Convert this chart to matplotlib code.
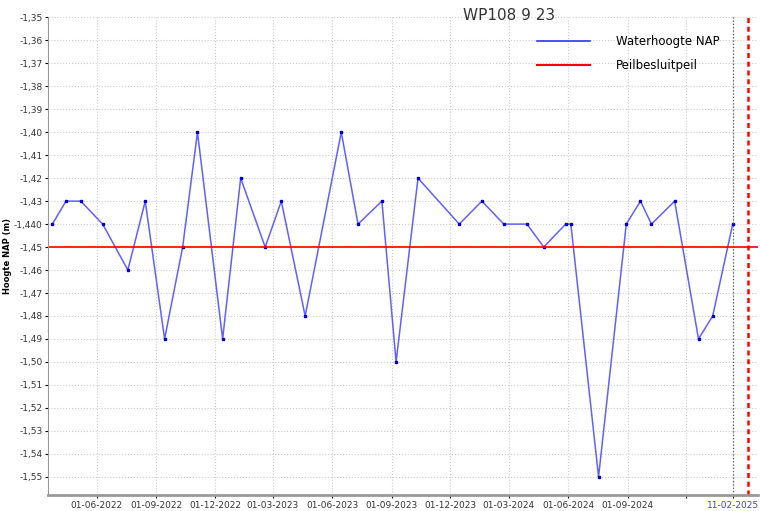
import matplotlib
matplotlib.use("Agg")
import matplotlib.pyplot as plt
from matplotlib.lines import Line2D
from datetime import datetime

dates = ["2022-03-24","2022-04-14","2022-05-07","2022-06-10","2022-07-19","2022-08-15",
         "2022-09-14","2022-10-12","2022-11-04","2022-12-13","2023-01-10","2023-02-17",
         "2023-03-14","2023-04-20","2023-06-15","2023-07-11","2023-08-17","2023-09-08",
         "2023-10-12","2023-12-15","2024-01-19","2024-02-22","2024-03-29","2024-04-24",
         "2024-05-28","2024-06-05","2024-07-18","2024-08-30","2024-09-21","2024-10-08",
         "2024-11-13","2024-12-20","2025-01-11","2025-02-11"]
levels = [-1.44,-1.43,-1.43,-1.44,-1.46,-1.43,-1.49,-1.45,-1.40,-1.49,-1.42,-1.45,
          -1.43,-1.48,-1.40,-1.44,-1.43,-1.50,-1.42,-1.44,-1.43,-1.44,-1.44,-1.45,
          -1.44,-1.44,-1.55,-1.44,-1.43,-1.44,-1.43,-1.49,-1.48,-1.44]
peilbesluit = -1.45
yticks = [round(-1.35 - 0.01*i, 2) for i in range(21)]
ytick_labels = [("%.2f" % v).replace(".", ",") if abs(v+1.44) > 1e-9 else "-1,440" for v in yticks]
xtick_dates = ["2022-06-01","2022-09-01","2022-12-01","2023-03-01","2023-06-01","2023-09-01",
               "2023-12-01","2024-03-01","2024-06-01","2024-09-01","2024-12-01","2025-02-11"]
xtick_labels = ["01-06-2022","01-09-2022","01-12-2022","01-03-2023","01-06-2023","01-09-2023",
                "01-12-2023","01-03-2024","01-06-2024","01-09-2024","","11-02-2025"]

d = [datetime.fromisoformat(s) for s in dates]
fig = plt.figure(figsize=(7.6, 5.11), dpi=100)
ax = fig.add_axes([0.063, 0.031, 0.935, 0.935])
ax.plot(d, levels, color="#6060ff", lw=1.1, marker="s", ms=2, mfc="#0000cc", mec="#0000cc")
ax.axhline(peilbesluit, color="red", lw=1.2)
ax.axvline(datetime(2025, 2, 11), color="#555555", lw=0.9, ls=":")
ax.axvline(datetime(2025, 3, 6), color="red", lw=1.8, ls=(0, (2, 1.5)))
ax.set_xlim(datetime(2022, 3, 17), datetime(2025, 3, 23))
ax.set_ylim(-1.558, -1.35)
ax.set_yticks(yticks)
ax.set_yticklabels(ytick_labels, fontsize=6.5, color="#333333")
xt = [datetime.fromisoformat(s) for s in xtick_dates]
ax.set_xticks(xt)
ax.set_xticklabels(xtick_labels, fontsize=6.5, color="#333333")
ax.get_xticklabels()[-1].set_color("#4040dd")
ax.tick_params(length=2, pad=2)
ax.grid(True, color="#cccccc", ls=":", lw=0.8)
for s in ["top", "right"]:
    ax.spines[s].set_visible(False)
ax.spines["left"].set_color("#999999")
ax.spines["bottom"].set_color("#999999")
ax.spines["bottom"].set_linewidth(2)
ax.set_ylabel("Hoogte NAP (m)", fontsize=6, fontweight="bold")
ax.yaxis.set_label_coords(-0.05, 0.5)
fig.text(0.67, 0.985, "WP108 9 23", fontsize=11, color="#333333", ha="center", va="top")
handles = [Line2D([], [], color="#3333ff", lw=1.2), Line2D([], [], color="red", lw=1.5)]
ax.legend(handles, ["Waterhoogte NAP", "Peilbesluitpeil"], loc="upper right",
          bbox_to_anchor=(0.96, 0.985), frameon=False, fontsize=8.5,
          handlelength=4.5, handletextpad=2.2, labelspacing=0.9)
fig.savefig("out.png", dpi=100)
